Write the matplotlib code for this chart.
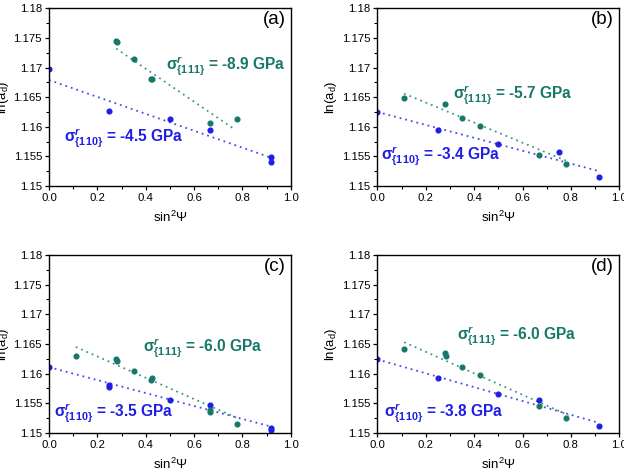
import matplotlib
matplotlib.use("Agg")
import matplotlib.pyplot as plt
from matplotlib.ticker import MultipleLocator, FixedLocator

plt.rcParams['font.family'] = ['Liberation Sans', 'DejaVu Sans']
plt.rcParams['mathtext.fontset'] = 'custom'
plt.rcParams['mathtext.rm'] = 'Liberation Sans:bold'
plt.rcParams['mathtext.bf'] = 'Liberation Sans:bold'
plt.rcParams['mathtext.it'] = 'Liberation Sans:italic:bold'

BLUE = '#1e1ee6'
BLUE_LINE = '#4a4ae8'
GREEN = '#17786a'
GREEN_LINE = '#3a9a84'

panel_labels = ['(a)', '(b)', '(c)', '(d)']

# {110} data (blue)
blue_x_a = [0.0, 0.25, 0.5, 0.667, 0.917, 0.917]
blue_y_a = [1.1697, 1.1626, 1.1613, 1.1594, 1.1549, 1.1541]
blue_x_b = [0.0, 0.25, 0.5, 0.75, 0.917]
blue_y_b = [1.1625, 1.1594, 1.1571, 1.1558, 1.1515]
blue_x_c = [0.0, 0.25, 0.25, 0.5, 0.667, 0.917, 0.917]
blue_y_c = [1.1611, 1.1581, 1.1578, 1.1556, 1.1547, 1.1508, 1.1505]
blue_x_d = [0.0, 0.25, 0.5, 0.667, 0.917]
blue_y_d = [1.1624, 1.1592, 1.1565, 1.1556, 1.1511]

# {111} data (green)
green_x_a = [0.278, 0.282, 0.352, 0.422, 0.428, 0.667, 0.778]
green_y_a = [1.1744, 1.1743, 1.1714, 1.1680, 1.1681, 1.1606, 1.1613]
green_x_b = [0.111, 0.278, 0.352, 0.426, 0.667, 0.778]
green_y_b = [1.1648, 1.1639, 1.1614, 1.1601, 1.1552, 1.1537]
green_x_c = [0.111, 0.278, 0.282, 0.352, 0.42, 0.428, 0.667, 0.667, 0.778]
green_y_c = [1.1630, 1.1625, 1.1621, 1.1605, 1.1590, 1.1593, 1.1539, 1.1536, 1.1515]
green_x_d = [0.111, 0.278, 0.282, 0.352, 0.426, 0.667, 0.778]
green_y_d = [1.1641, 1.1635, 1.1630, 1.1612, 1.1598, 1.1546, 1.1525]

# fitted lines (endpoints)
blue_fit_x = [[0.0, 0.917], [0.0, 0.917], [0.0, 0.917], [0.0, 0.917]]
blue_fit_y = [[1.1679, 1.1548], [1.1625, 1.1525], [1.1611, 1.1511], [1.1624, 1.1517]]
green_fit_x = [[0.278, 0.763], [0.111, 0.79], [0.111, 0.78], [0.111, 0.79]]
green_fit_y = [[1.1732, 1.1597], [1.1656, 1.1541], [1.1645, 1.1525], [1.1653, 1.1530]]

# stress labels
green_stress = ['-8.9', '-5.7', '-6.0', '-6.0']
blue_stress = ['-4.5', '-3.4', '-3.5', '-3.8']
green_text_pos = [(0.484, 1.1696), (0.314, 1.1648), (0.39, 1.1638), (0.331, 1.1657)]
blue_text_pos = [(0.062, 1.1575), (0.015, 1.1544), (0.021, 1.1528), (0.028, 1.1528)]

x_ticks = [0.0, 0.2, 0.4, 0.6, 0.8, 1.0]
x_tick_labels = ['0.0', '0.2', '0.4', '0.6', '0.8', '1.0']
y_ticks = [1.15, 1.155, 1.16, 1.165, 1.17, 1.175, 1.18]
y_tick_labels = ['1.15', '1.155', '1.16', '1.165', '1.17', '1.175', '1.18']

blue_x = [blue_x_a, blue_x_b, blue_x_c, blue_x_d]
blue_y = [blue_y_a, blue_y_b, blue_y_c, blue_y_d]
green_x = [green_x_a, green_x_b, green_x_c, green_x_d]
green_y = [green_y_a, green_y_b, green_y_c, green_y_d]

fig = plt.figure(figsize=(6.24, 4.75), dpi=100)
W, H = 624.0, 475.0
lefts = [49.0, 377.3, 49.0, 377.3]
widths = [241.7, 242.0, 241.7, 242.0]
tops = [8.3, 8.3, 255.0, 255.0]
heights = [177.7, 177.7, 178.0, 178.0]

for i in range(4):
    ax = fig.add_axes([lefts[i] / W, 1 - (tops[i] + heights[i]) / H,
                       widths[i] / W, heights[i] / H])
    ax.plot(blue_fit_x[i], blue_fit_y[i], linestyle=(0, (1, 2.2)), color=BLUE_LINE, lw=1.3)
    ax.plot(green_fit_x[i], green_fit_y[i], linestyle=(0, (1, 2.2)), color=GREEN_LINE, lw=1.3)
    ax.plot(blue_x[i], blue_y[i], 'o', color=BLUE, ms=3.4, mec=BLUE, lw=0)
    ax.plot(green_x[i], green_y[i], 'o', color=GREEN, ms=3.4, mec=GREEN, lw=0)

    ax.set_xlim(0, 1.0)
    ax.set_ylim(1.15, 1.18)
    ax.xaxis.set_major_locator(FixedLocator(x_ticks))
    ax.set_xticklabels(x_tick_labels)
    ax.yaxis.set_major_locator(FixedLocator(y_ticks))
    ax.set_yticklabels(y_tick_labels)
    ax.xaxis.set_minor_locator(MultipleLocator(0.1))
    ax.yaxis.set_minor_locator(MultipleLocator(0.0025))
    ax.tick_params(which='major', direction='out', length=3, width=0.9,
                   labelsize=8.2, pad=2, top=False, right=False)
    ax.tick_params(which='minor', direction='out', length=2, width=0.8,
                   top=False, right=False)
    for s in ax.spines.values():
        s.set_linewidth(1.0)

    ax.set_xlabel('sin$\\mathregular{^2}$\u03a8', fontsize=9.5, labelpad=5)
    ax.set_ylabel('ln(a$\\mathregular{_d}$)', fontsize=9.5, labelpad=2)

    ax.text(0.978, 0.985, panel_labels[i], transform=ax.transAxes,
            ha='right', va='top', fontsize=13.5)

    gx, gy = green_text_pos[i]
    ax.text(gx, gy, r'$\mathrm{\sigma}^{r}_{\mathrm{\{111\}}}$ = ' + green_stress[i] + ' GPa',
            color=GREEN, fontsize=11.2, fontweight='bold', ha='left', va='baseline')
    bx, by = blue_text_pos[i]
    ax.text(bx, by, r'$\mathrm{\sigma}^{r}_{\mathrm{\{110\}}}$ = ' + blue_stress[i] + ' GPa',
            color=BLUE, fontsize=11.2, fontweight='bold', ha='left', va='baseline')

fig.savefig('out.png', dpi=100)
